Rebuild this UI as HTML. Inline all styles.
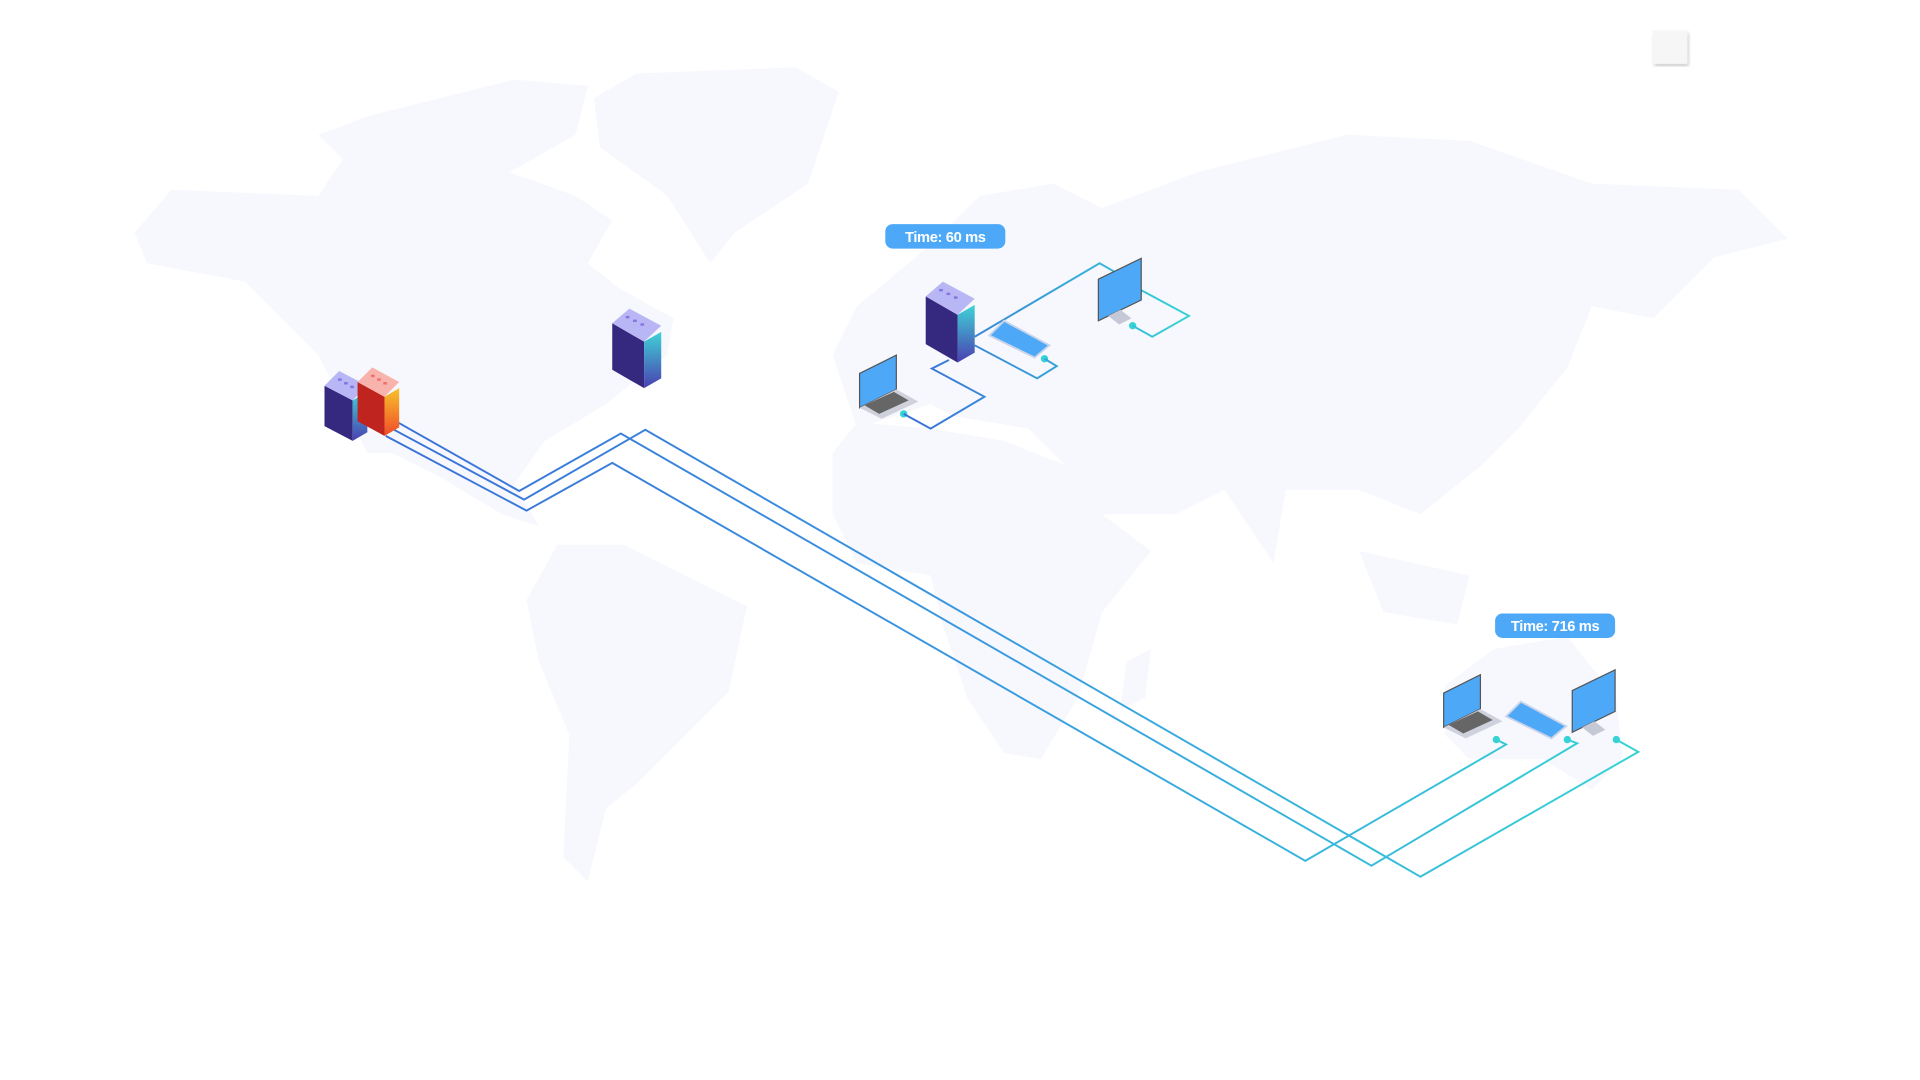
<!DOCTYPE html>
<html><head><meta charset="utf-8"><style>
html,body{margin:0;padding:0;background:#fff;width:1920px;height:1080px;overflow:hidden}
svg{display:block}
.lbl{font-family:"Liberation Sans",sans-serif;font-weight:bold;font-size:12px;fill:#fff;letter-spacing:-0.3px}
</style></head><body>
<svg width="1920" height="1080" viewBox="0 0 1568 882" preserveAspectRatio="none" xmlns="http://www.w3.org/2000/svg">
<defs>
<linearGradient id="w" gradientUnits="userSpaceOnUse" x1="300" y1="0" x2="1340" y2="0">
<stop offset="0" stop-color="#3b6fd8"/><stop offset="0.5" stop-color="#3a9be0"/><stop offset="1" stop-color="#36d3d6"/></linearGradient>
<linearGradient id="we" gradientUnits="userSpaceOnUse" x1="740" y1="0" x2="970" y2="0">
<stop offset="0" stop-color="#3b6fd8"/><stop offset="1" stop-color="#36d3d6"/></linearGradient>
<linearGradient id="sb" x1="0" y1="0" x2="0" y2="1"><stop offset="0" stop-color="#3fd3d8"/><stop offset="1" stop-color="#4a3fb0"/></linearGradient>
<linearGradient id="sr" x1="0" y1="0" x2="0" y2="1"><stop offset="0" stop-color="#f7c22a"/><stop offset="1" stop-color="#f04a2a"/></linearGradient>
<filter id="sh"><feDropShadow dx="1" dy="2" stdDeviation="1.5" flood-color="#000" flood-opacity="0.2"/></filter>
</defs>
<g fill="#f7f8fd">
<polygon points="110,190 140,155 260,160 280,130 400,135 470,160 500,180 480,215 505,235 550,260 545,290 495,330 445,360 420,395 440,430 410,420 360,390 320,370 300,370 260,290 200,230 120,215"/>
<polygon points="485,80 520,60 650,55 685,75 660,150 600,190 580,215 545,160 490,120"/>
<polygon points="260,110 300,95 420,65 480,70 470,110 400,150 300,150"/>
<polygon points="430,490 455,445 510,445 560,470 610,495 595,565 520,640 495,660 480,720 460,700 465,600 440,540"/>
<polygon points="680,290 700,250 760,200 800,160 860,150 900,170 980,140 1100,110 1200,115 1300,150 1420,155 1460,195 1400,210 1350,260 1300,250 1280,300 1240,350 1210,380 1160,420 1110,400 1050,400 1040,460 1000,400 960,420 900,420 870,380 840,350 780,340 760,330 700,350 690,320"/>
<polygon points="680,370 700,345 760,350 820,360 870,380 900,420 940,450 900,500 880,570 850,620 820,615 790,570 770,510 760,470 700,460 680,420"/>
<polygon points="920,540 940,530 935,570 915,580"/>
<polygon points="1110,450 1200,470 1190,510 1130,500"/>
<polygon points="1180,560 1220,530 1280,520 1320,570 1325,620 1300,645 1260,620 1200,620 1180,600"/>
</g>
<rect x="1350" y="25" width="28" height="27" fill="#f6f6f6" filter="url(#sh)"/>
<!-- main wires -->
<g fill="none" stroke="url(#w)" stroke-width="1.6">
<polyline points="325,345 424,401 507,354 1120,707 1288,607 1280,604"/>
<polyline points="320,350 428,408 527,351 1160,716 1338,614 1320,604"/>
<polyline points="315,356 430,417 500,378 1066,703 1230,608 1222,604"/>
</g>
<g fill="#36d3d6"><circle cx="1280" cy="604" r="3"/><circle cx="1320" cy="604" r="3"/><circle cx="1222" cy="604" r="3"/>
<circle cx="925" cy="266" r="3"/><circle cx="853" cy="293" r="3"/><circle cx="738" cy="338" r="3"/></g>
<!-- europe wires -->
<g fill="none" stroke="url(#we)" stroke-width="1.6">
<polyline points="796,275 898,215 912,223"/>
<polyline points="932,237 971,258 941,275 925,266"/>
<polyline points="796,282 847,309 863,299 853,293"/>
<polyline points="775,294 761,301 804,324 760,350 738,338"/>
</g>
<!-- servers -->
<g id="srvB">
</g>
<g>
<!-- left blue server -->
<polygon points="265,315 288,327 288,360 265,348" fill="#35287f"/>
<polygon points="288,327 300,320 300,353 288,360" fill="url(#sb)"/>
<polygon points="265,315 277,303 300,315 288,327" fill="#b9b6f5"/>
<!-- red server -->
<polygon points="292,312 314,324 314,356 292,344" fill="#c0241f"/>
<polygon points="314,324 326,317 326,349 314,356" fill="url(#sr)"/>
<polygon points="292,312 304,300 326,312 314,324" fill="#f9b3ad"/>
<!-- middle server -->
<polygon points="500,264 526,279 526,317 500,302" fill="#35287f"/>
<polygon points="526,279 540,271 540,309 526,317" fill="url(#sb)"/>
<polygon points="500,264 514,252 540,266 526,279" fill="#b9b6f5"/>
<!-- europe server -->
<polygon points="756,242 782,257 782,296 756,281" fill="#35287f"/>
<polygon points="782,257 796,249 796,288 782,296" fill="url(#sb)"/>
<polygon points="756,242 770,230 796,244 782,257" fill="#b9b6f5"/>
</g>
<g fill="#7f78e0">
<rect x="276" y="309" width="3" height="2"/><rect x="281" y="312" width="3" height="2"/><rect x="286" y="315" width="3" height="2"/>
<rect x="511" y="258" width="3" height="2"/><rect x="517" y="261" width="3" height="2"/><rect x="523" y="264" width="3" height="2"/>
<rect x="767" y="236" width="3" height="2"/><rect x="773" y="239" width="3" height="2"/><rect x="779" y="242" width="3" height="2"/>
</g>
<g fill="#f0706a"><rect x="303" y="306" width="3" height="2"/><rect x="308" y="309" width="3" height="2"/><rect x="313" y="312" width="3" height="2"/></g>
<!-- devices -->
<g id="laptop">
<polygon points="702,305 732,290 732,318 702,333" fill="#4da9f7" stroke="#555" stroke-width="1"/>
<polygon points="702,333 732,318 750,328 720,342" fill="#cfd2dc"/>
<polygon points="706,331 730,320 742,327 718,338" fill="#666"/>
</g>
<use href="#laptop" transform="translate(477,261)"/>
<g id="phone"><polygon points="808,274 820,262 857,282 845,292" fill="#4da9f7" stroke="#c9d3ea" stroke-width="1.5"/></g>
<use href="#phone" transform="translate(422,311)"/>
<g id="mon">
<polygon points="897,228 932,211 932,245 897,262" fill="#4da9f7" stroke="#555" stroke-width="1"/>
<polygon points="905,258 915,253 924,260 914,265" fill="#c5c8d5"/>
</g>
<use href="#mon" transform="translate(387,336)"/>
<!-- labels -->
<rect x="723" y="183" width="98" height="20" rx="6" fill="#4da9f7"/>
<text x="772" y="197.5" text-anchor="middle" class="lbl">Time: 60 ms</text>
<rect x="1221" y="501" width="98" height="20" rx="6" fill="#4da9f7"/>
<text x="1270" y="515.5" text-anchor="middle" class="lbl">Time: 716 ms</text>
</svg>
</body></html>
